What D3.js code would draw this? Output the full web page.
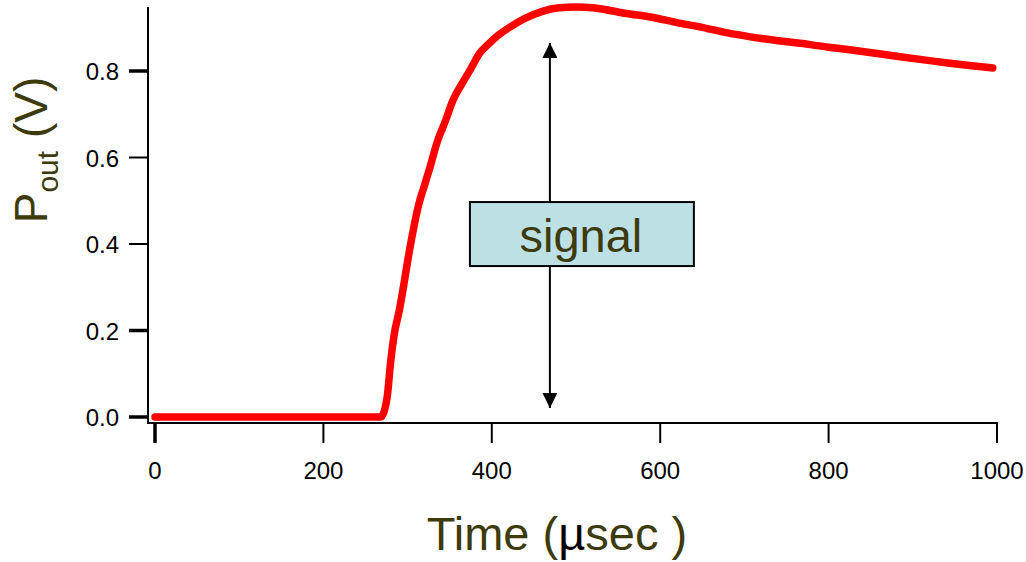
<!DOCTYPE html>
<html>
<head>
<meta charset="utf-8">
<script src="https://cdn.jsdelivr.net/npm/d3@7"></script>
<style>
  body { margin: 0; background: #fff; }
  text { font-family: "Liberation Sans", Arial, sans-serif; }
</style>
</head>
<body>
<div id="chart"></div>
<script>
// time (usec) and output (V)
const timeVals = [0, 268, 272, 276, 280, 284, 290, 295, 300, 306, 313, 320, 327, 335, 345, 354, 365, 375, 386, 396, 406, 422, 440, 460, 480, 500, 520, 540, 560, 588, 620, 647, 680, 707, 740, 766, 800, 825, 860, 885, 920, 944, 970, 995];
const poutVals = [0, 0, 0.012, 0.05, 0.13, 0.19, 0.245, 0.30, 0.36, 0.425, 0.49, 0.535, 0.58, 0.635, 0.685, 0.733, 0.772, 0.805, 0.842, 0.862, 0.88, 0.902, 0.922, 0.938, 0.946, 0.948, 0.946, 0.94, 0.933, 0.925, 0.912, 0.902, 0.888, 0.879, 0.87, 0.864, 0.855, 0.849, 0.84, 0.833, 0.824, 0.818, 0.812, 0.807];

const xTicks = [0, 200, 400, 600, 800, 1000];
const yTicks = [0, 0.2, 0.4, 0.6, 0.8];

// annotation: double arrow + label box (in data units)
const arrowT = 469;
const arrowFrom = 0.021;
const arrowTo = 0.865;
const boxT = [374, 640];
const boxV = [0.349, 0.497];
const boxLabel = "signal";

const W = 1026, H = 562;
const svg = d3.select("#chart").append("svg")
    .attr("width", W).attr("height", H);

const x = d3.scaleLinear().domain([0, 1000]).range([155, 997]);
const y = d3.scaleLinear().domain([0, 0.8]).range([417, 71]);

const axisX = 148;      // y axis line position
const axisY = 423;      // x axis line position
const titleColor = "#3d3a0c";

// axis lines
svg.append("line")
    .attr("x1", axisX).attr("x2", axisX)
    .attr("y1", y(0.948)).attr("y2", axisY + 1)
    .attr("stroke", "#000").attr("stroke-width", 2);
svg.append("line")
    .attr("x1", axisX - 1).attr("x2", x(1000) + 1)
    .attr("y1", axisY).attr("y2", axisY)
    .attr("stroke", "#000").attr("stroke-width", 2);

// y ticks
svg.selectAll(".ytick").data(yTicks).join("line")
    .attr("class", "ytick")
    .attr("x1", axisX - 19).attr("x2", axisX)
    .attr("y1", d => y(d)).attr("y2", d => y(d))
    .attr("stroke", "#000")
    .attr("stroke-width", d => (d == 0.4 || d == 0.6) ? 2 : 3.5);
svg.selectAll(".ylab").data(yTicks).join("text")
    .attr("class", "ylab")
    .attr("x", 119).attr("y", d => y(d) + 9)
    .attr("text-anchor", "end")
    .attr("font-size", 24)
    .text(d => d3.format(".1f")(d));

// x ticks
svg.selectAll(".xtick").data(xTicks).join("line")
    .attr("class", "xtick")
    .attr("x1", d => x(d)).attr("x2", d => x(d))
    .attr("y1", axisY).attr("y2", axisY + 20)
    .attr("stroke", "#000")
    .attr("stroke-width", d => d == 0 ? 3.5 : 2);
svg.selectAll(".xlab").data(xTicks).join("text")
    .attr("class", "xlab")
    .attr("x", d => x(d)).attr("y", 479)
    .attr("text-anchor", "middle")
    .attr("font-size", 24)
    .text(d => d);

// axis titles
const xt = svg.append("text")
    .attr("x", 557).attr("y", 550)
    .attr("text-anchor", "middle")
    .attr("font-size", 47)
    .attr("fill", titleColor);
xt.append("tspan").text("Time (");
xt.append("tspan").attr("fill", "#000").text("\u00b5");
xt.append("tspan").text("sec )");

const yt = svg.append("text")
    .attr("transform", "translate(47,150) rotate(-90)")
    .attr("text-anchor", "middle")
    .attr("font-size", 46)
    .attr("fill", titleColor);
yt.append("tspan").text("P");
yt.append("tspan").attr("font-size", 30).attr("dy", 11).text("out");
yt.append("tspan").attr("dy", -11).text(" (V)");

// trace
const pts = timeVals.map((t, i) => [t, poutVals[i]]);
const line = d3.line()
    .x(d => x(d[0]))
    .y(d => y(d[1]))
    .curve(d3.curveMonotoneX);
svg.append("path")
    .datum(pts)
    .attr("d", line)
    .attr("fill", "none")
    .attr("stroke", "#ff0000")
    .attr("stroke-width", 7.5)
    .attr("stroke-linecap", "round")
    .attr("stroke-linejoin", "round");

// double-headed arrow
const defs = svg.append("defs");
defs.append("marker")
    .attr("id", "head")
    .attr("viewBox", "0 0 16 15")
    .attr("refX", 15).attr("refY", 7.5)
    .attr("markerWidth", 16).attr("markerHeight", 15)
    .attr("markerUnits", "userSpaceOnUse")
    .attr("orient", "auto-start-reverse")
    .append("path")
    .attr("d", "M0,0 L15,7.5 L0,15 Z")
    .attr("fill", "#000");
svg.append("line")
    .attr("x1", x(arrowT)).attr("x2", x(arrowT))
    .attr("y1", y(arrowFrom)).attr("y2", y(arrowTo))
    .attr("stroke", "#000").attr("stroke-width", 2)
    .attr("marker-start", "url(#head)")
    .attr("marker-end", "url(#head)");

// label box
svg.append("rect")
    .attr("x", x(boxT[0])).attr("y", y(boxV[1]))
    .attr("width", x(boxT[1]) - x(boxT[0]))
    .attr("height", y(boxV[0]) - y(boxV[1]))
    .attr("fill", "#bce0e4")
    .attr("stroke", "#000").attr("stroke-width", 2);
svg.append("text")
    .attr("x", (x(boxT[0]) + x(boxT[1])) / 2 - 1)
    .attr("y", 252)
    .attr("text-anchor", "middle")
    .attr("font-size", 47)
    .attr("fill", titleColor)
    .text(boxLabel);
</script>
</body>
</html>
